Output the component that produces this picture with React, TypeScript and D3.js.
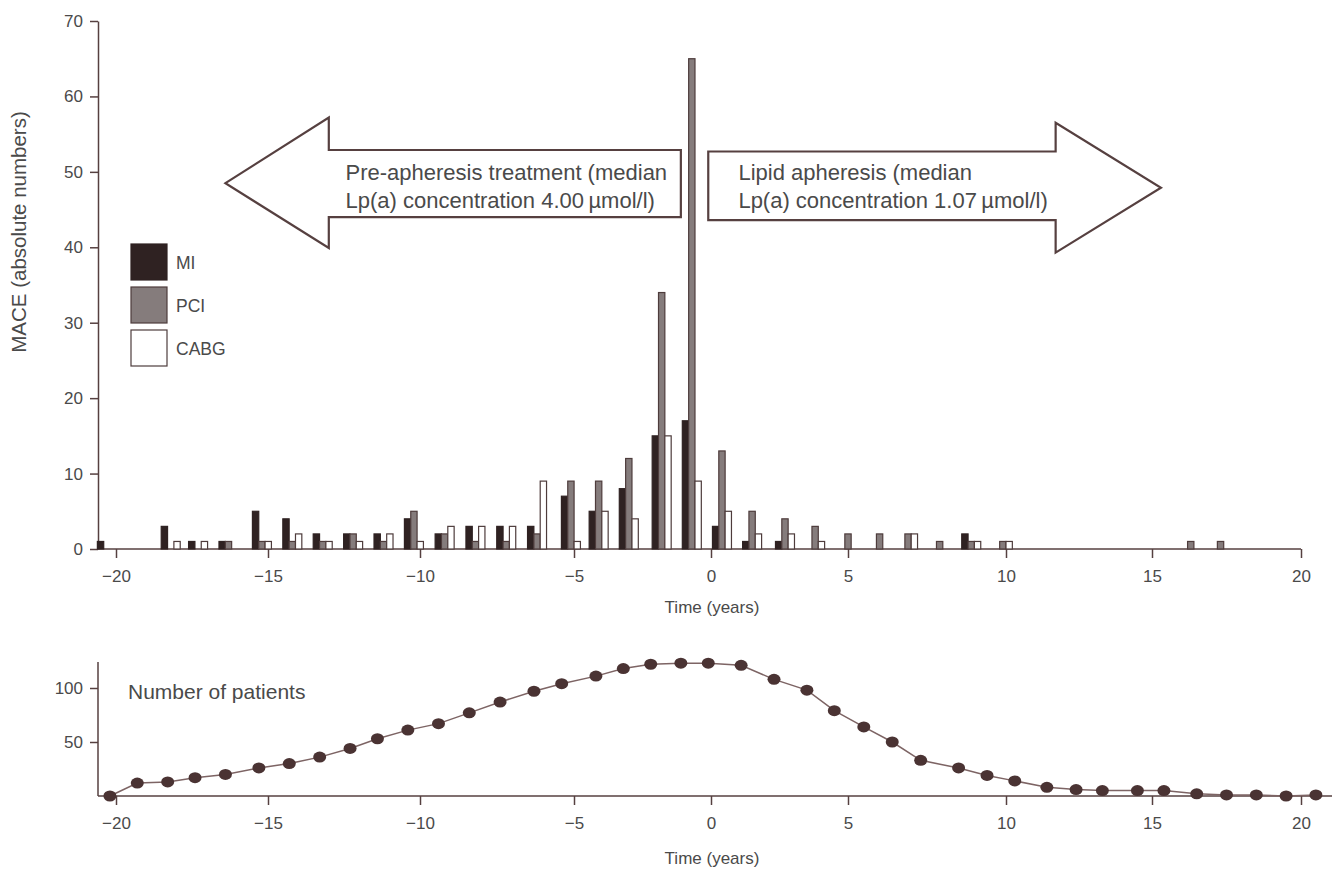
// MACE events per year before / during lipid apheresis, plus patient numbers underneath
import React, { useRef, useEffect } from 'react';
import * as d3 from 'd3';

// bar groups: centre of each group in years
const groupYears = [-20.3, -18.2, -17.3, -16.3, -15.2, -14.2, -13.2, -12.2, -11.2, -10.2,
  -9.2, -8.2, -7.2, -6.2, -5.1, -4.1, -3.0, -1.8, -0.7, 0.4, 1.5, 2.7, 3.8, 5.0, 6.0,
  6.9, 7.9, 8.9, 9.9, 16.3, 17.3];
const miCounts = [1, 3, 1, 1, 5, 4, 2, 2, 2, 4, 2, 3, 3, 3, 7, 5, 8, 15, 17, 3, 1, 1, 0, 0, 0, 0, 0, 2, 0, 0, 0];
const pciCounts = [0, 0, 0, 1, 1, 1, 1, 2, 1, 5, 2, 1, 1, 2, 9, 9, 12, 34, 65, 13, 5, 4, 3, 2, 2, 2, 1, 1, 1, 1, 1];
const cabgCounts = [0, 1, 1, 0, 1, 2, 1, 1, 2, 1, 3, 3, 3, 9, 1, 5, 4, 15, 9, 5, 2, 2, 1, 0, 0, 2, 0, 1, 1, 0, 0];
const seriesNames = ['MI', 'PCI', 'CABG'];

// lower panel: number of patients under observation
const patientYears = [-20.2, -19.3, -18.3, -17.4, -16.4, -15.3, -14.3, -13.3, -12.3, -11.4,
  -10.4, -9.4, -8.4, -7.4, -6.3, -5.4, -4.2, -3.2, -2.2, -1.1, -0.1, 1.1, 2.3, 3.5, 4.5,
  5.5, 6.4, 7.3, 8.5, 9.4, 10.3, 11.4, 12.4, 13.3, 14.5, 15.4, 16.5, 17.5, 18.5, 19.5, 20.5];
const patientCounts = [0, 12, 13, 17, 20, 26, 30, 36, 44, 53, 61, 67, 77, 87, 97, 104, 111,
  118, 122, 123, 123, 121, 108, 98, 79, 64, 50, 33, 26, 19, 14, 8, 6, 5, 5, 5, 2, 1, 1, 0, 1];

const xTicks = [-20, -15, -10, -5, 0, 5, 10, 15, 20];
const maceTicks = [0, 10, 20, 30, 40, 50, 60, 70];
const patientTicks = [50, 100];

function App() {
  const ref = useRef(null);
  const width = 1339;
  const height = 870;

  useEffect(() => {
    const svg = d3.select(ref.current);
    svg.selectAll('*').remove();

    const ink = '#564040';
    const textCol = '#4a4a4a';
    const font = '"Liberation Sans", Arial, sans-serif';
    const axisX = 98;

    // printed ticks are not evenly spaced, so the scale passes through each of them
    const x = d3.scaleLinear().domain(xTicks).range([116, 268, 420, 574, 711, 848, 1006, 1152, 1301]);
    const yTop = d3.scaleLinear().domain([0, 70]).range([549, 21]);
    const yBot = d3.scaleLinear().domain([0, 100]).range([796, 688]);

    const styleAxis = g => {
      g.selectAll('line').attr('stroke', ink).attr('stroke-width', 1.5);
      g.selectAll('path').attr('stroke', ink).attr('stroke-width', 1.5);
      g.selectAll('text').attr('fill', textCol).style('font-size', '17px').style('font-family', font);
    };
    const label = (sel, size) => sel.attr('fill', textCol).style('font-size', size + 'px').style('font-family', font);

    // ---- top panel ----
    svg.append('g')
      .attr('transform', `translate(${axisX},0)`)
      .call(d3.axisLeft(yTop).tickValues(maceTicks).tickSize(8).tickSizeOuter(0).tickPadding(7))
      .call(styleAxis);

    svg.append('line')
      .attr('x1', axisX).attr('x2', x(20))
      .attr('y1', yTop(0)).attr('y2', yTop(0))
      .attr('stroke', ink).attr('stroke-width', 1.5);

    svg.append('g')
      .attr('transform', `translate(0,${yTop(0)})`)
      .call(d3.axisBottom(x).tickValues(xTicks).tickSize(9).tickPadding(12))
      .call(g => g.select('.domain').remove())
      .call(styleAxis);

    svg.append('text')
      .attr('x', 712).attr('y', 613)
      .attr('text-anchor', 'middle')
      .call(label, 17)
      .text('Time (years)');

    svg.append('text')
      .attr('transform', 'translate(26,232) rotate(-90)')
      .attr('text-anchor', 'middle')
      .call(label, 20.5)
      .text('MACE (absolute numbers)');

    // arrows with the two treatment periods (coordinates in data units)
    const arrows = [
      { pts: [[-16.4, 48.5], [-13, 57.2], [-13, 52.9], [-1.1, 52.9], [-1.1, 44], [-13, 44], [-13, 39.9]],
        lines: ['Pre-apheresis treatment (median', 'Lp(a) concentration 4.00\u2009\u00b5mol/l)'], tx: -12.45 },
      { pts: [[-0.1, 52.7], [11.7, 52.7], [11.7, 56.5], [15.3, 47.9], [11.7, 39.3], [11.7, 43.6], [-0.1, 43.6]],
        lines: ['Lipid apheresis (median', 'Lp(a) concentration 1.07\u2009\u00b5mol/l)'], tx: 1.0 }
    ];
    arrows.forEach(a => {
      svg.append('polygon')
        .attr('points', a.pts.map(p => `${x(p[0])},${yTop(p[1])}`).join(' '))
        .attr('fill', 'white')
        .attr('stroke', ink)
        .attr('stroke-width', 2.2);
      a.lines.forEach((t, i) => {
        svg.append('text')
          .attr('x', x(a.tx)).attr('y', 180 + i * 28)
          .call(label, 22)
          .text(t);
      });
    });

    // grouped bars
    const sub = d3.scaleBand().domain(seriesNames).range([-9.5, 9.5]);
    const fills = { MI: '#2f2222', PCI: '#857c7c', CABG: '#ffffff' };
    const strokes = { MI: '#2f2222', PCI: '#4e3c3c', CABG: '#4e3c3c' };
    const bars = [];
    groupYears.forEach((yr, i) => {
      const vals = [miCounts[i], pciCounts[i], cabgCounts[i]];
      seriesNames.forEach((s, j) => {
        if (vals[j] > 0) bars.push({ yr, s, v: vals[j] });
      });
    });

    svg.selectAll('.bar')
      .data(bars)
      .enter()
      .append('rect')
      .attr('class', d => `bar ${d.s}`)
      .attr('x', d => x(d.yr) + sub(d.s))
      .attr('y', d => yTop(d.v))
      .attr('width', sub.bandwidth())
      .attr('height', d => yTop(0) - yTop(d.v))
      .style('fill', d => fills[d.s])
      .style('stroke', d => strokes[d.s])
      .style('stroke-width', 1.2);

    // legend
    seriesNames.forEach((s, i) => {
      const top = 244 + i * 43;
      svg.append('rect')
        .attr('x', 131).attr('y', top)
        .attr('width', 36).attr('height', 36)
        .style('fill', fills[s]).style('stroke', strokes[s]).style('stroke-width', 1.2);
      svg.append('text')
        .attr('x', 176).attr('y', top + 25)
        .call(label, 17.5)
        .text(s);
    });

    // ---- bottom panel ----
    svg.append('line')
      .attr('x1', axisX).attr('x2', axisX)
      .attr('y1', 662).attr('y2', yBot(0))
      .attr('stroke', ink).attr('stroke-width', 1.5);

    svg.append('g')
      .attr('transform', `translate(${axisX},0)`)
      .call(d3.axisLeft(yBot).tickValues(patientTicks).tickSize(8).tickPadding(7))
      .call(g => g.select('.domain').remove())
      .call(styleAxis);

    svg.append('line')
      .attr('x1', axisX).attr('x2', 1332)
      .attr('y1', yBot(0)).attr('y2', yBot(0))
      .attr('stroke', ink).attr('stroke-width', 1.5);

    svg.append('g')
      .attr('transform', `translate(0,${yBot(0)})`)
      .call(d3.axisBottom(x).tickValues(xTicks).tickSize(9).tickPadding(12))
      .call(g => g.select('.domain').remove())
      .call(styleAxis);

    svg.append('text')
      .attr('x', 712).attr('y', 864)
      .attr('text-anchor', 'middle')
      .call(label, 17)
      .text('Time (years)');

    svg.append('text')
      .attr('x', 128).attr('y', 699)
      .call(label, 21)
      .text('Number of patients');

    const pts = patientYears.map((yr, i) => ({ yr, n: patientCounts[i] }));
    const line = d3.line().x(d => x(d.yr)).y(d => yBot(d.n));

    svg.append('path')
      .datum(pts)
      .attr('d', line)
      .attr('fill', 'none')
      .attr('stroke', '#7d6464')
      .attr('stroke-width', 1.5);

    svg.selectAll('.pt')
      .data(pts)
      .enter()
      .append('ellipse')
      .attr('class', 'pt')
      .attr('cx', d => x(d.yr))
      .attr('cy', d => yBot(d.n))
      .attr('rx', 6.5)
      .attr('ry', 5.5)
      .style('fill', '#4a3333');
  }, []);

  return (
    <svg
      ref={ref}
      width={width}
      height={height}
      style={{ position: 'absolute', left: 0, top: 0, background: 'white' }}
    />
  );
}

export default App;
